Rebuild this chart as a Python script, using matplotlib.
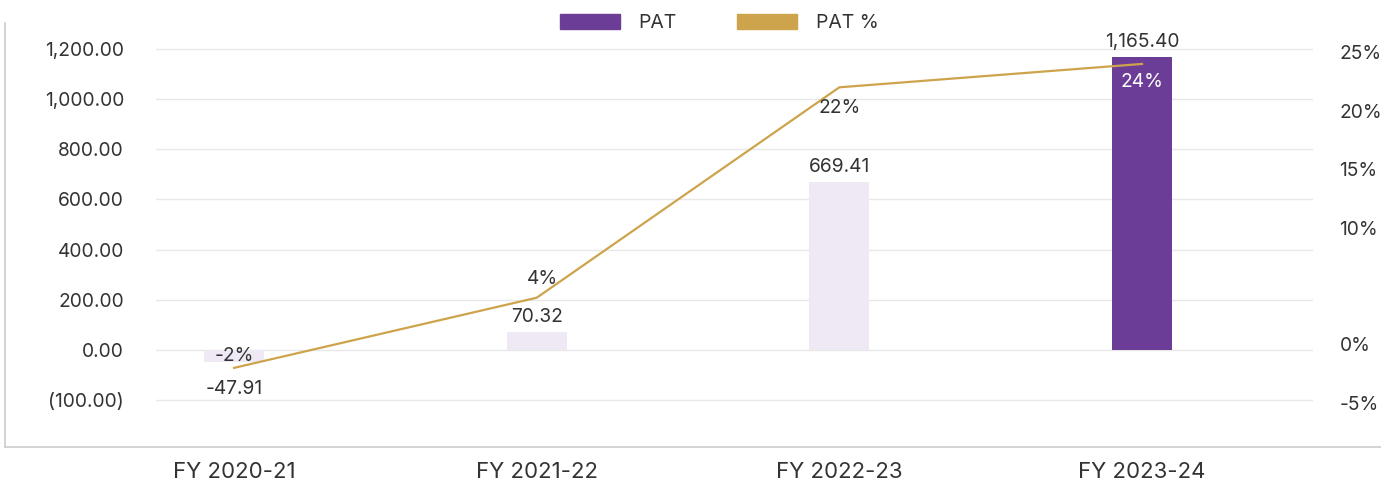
import matplotlib.pyplot as plt
from matplotlib.patches import Patch
from matplotlib.lines import Line2D

# Data
years = ['FY 2020-21', 'FY 2021-22', 'FY 2022-23', 'FY 2023-24']
pat = [-47.91, 70.32, 669.41, 1165.40]
pat_labels = ['-47.91', '70.32', '669.41', '1,165.40']
pat_pct = [-2, 4, 22, 24]

left_ticks = [-200, 0, 200, 400, 600, 800, 1000, 1200]
left_ticklabels = ['(100.00)', '0.00', '200.00', '400.00', '600.00', '800.00', '1,000.00', '1,200.00']
right_ticks = [-5, 0, 10, 15, 20, 25]
right_ticklabels = ['-5%', '0%', '10%', '15%', '20%', '25%']

# Styling
purple = '#6b3d97'
lavender = '#eee9f4'
gold = '#cda44c'
text_c = '#333333'
grid_c = '#e8e8e8'
bar_colors = [lavender, lavender, lavender, purple]
pct_offsets = [12, 19, -21, -18]      # px offset of % labels from line points
pct_colors = [text_c, text_c, text_c, 'white']

plt.rcParams.update({
    'font.family': ['Inter', 'DejaVu Sans'],
    'font.size': 13,
    'text.color': text_c,
    'xtick.color': text_c,
    'ytick.color': text_c,
})

W, H = 1381, 483
fig = plt.figure(figsize=(W / 100, H / 100), dpi=100)
ax = fig.add_axes([156 / W, (H - 447) / H, (1313 - 156) / W, (447 - 45) / H])

x = list(range(len(years)))
ax.bar(x, pat, width=0.198, color=bar_colors, zorder=2)
ax.set_xlim(-0.258, 3.565)
ax.set_ylim(-386.5, 1215)
ax.set_yticks(left_ticks)
ax.set_yticklabels(left_ticklabels)
ax.set_xticks(x)
ax.set_xticklabels(years, fontsize=16)
ax.tick_params(axis='y', length=0, pad=23, labelsize=13.8)
ax.tick_params(axis='x', length=0, pad=11)
ax.grid(axis='y', color=grid_c, linewidth=1.0, zorder=0)
for s in ax.spines.values():
    s.set_visible(False)

for xi, v, lab in zip(x, pat, pat_labels):
    off = 15 if v >= 0 else -27
    ax.annotate(lab, (xi, v), xytext=(0, off * 0.72), textcoords='offset points',
                ha='center', va='center', fontsize=13.8, zorder=4)

ax2 = ax.twinx()
ax2.plot(x, pat_pct, color=gold, linewidth=1.6, zorder=3)
ax2.set_ylim(-8.77, 25.62)
ax2.set_yticks(right_ticks)
ax2.set_yticklabels(right_ticklabels)
ax2.tick_params(axis='y', length=0, pad=19, labelsize=13.8)
for s in ax2.spines.values():
    s.set_visible(False)

for xi, v, off, c in zip(x, pat_pct, pct_offsets, pct_colors):
    ax2.annotate(f'{v}%', (xi, v), xytext=(4 if xi == 1 else 0, off * 0.72), textcoords='offset points',
                 ha='center', va='center', fontsize=13.8, color=c, zorder=5)

# Outer frame lines (left and bottom)
fig.add_artist(Line2D([5 / W, 5 / W], [1 - 23 / H, 1 - 447 / H], transform=fig.transFigure,
                      color='#cccccc', linewidth=1.2))
fig.add_artist(Line2D([5 / W, 1.0], [1 - 447 / H, 1 - 447 / H], transform=fig.transFigure,
                      color='#cccccc', linewidth=1.2))

handles = [Patch(color=purple, label='PAT'), Patch(color=gold, label='PAT %')]
fig.legend(handles=handles, loc='center', bbox_to_anchor=(0.5206, 1 - 23 / H), ncol=2,
           frameon=False, fontsize=14, handlelength=3.1, handleheight=0.85,
           handletextpad=0.95, columnspacing=3.1, borderpad=0)

fig.savefig('out.png', dpi=100)
